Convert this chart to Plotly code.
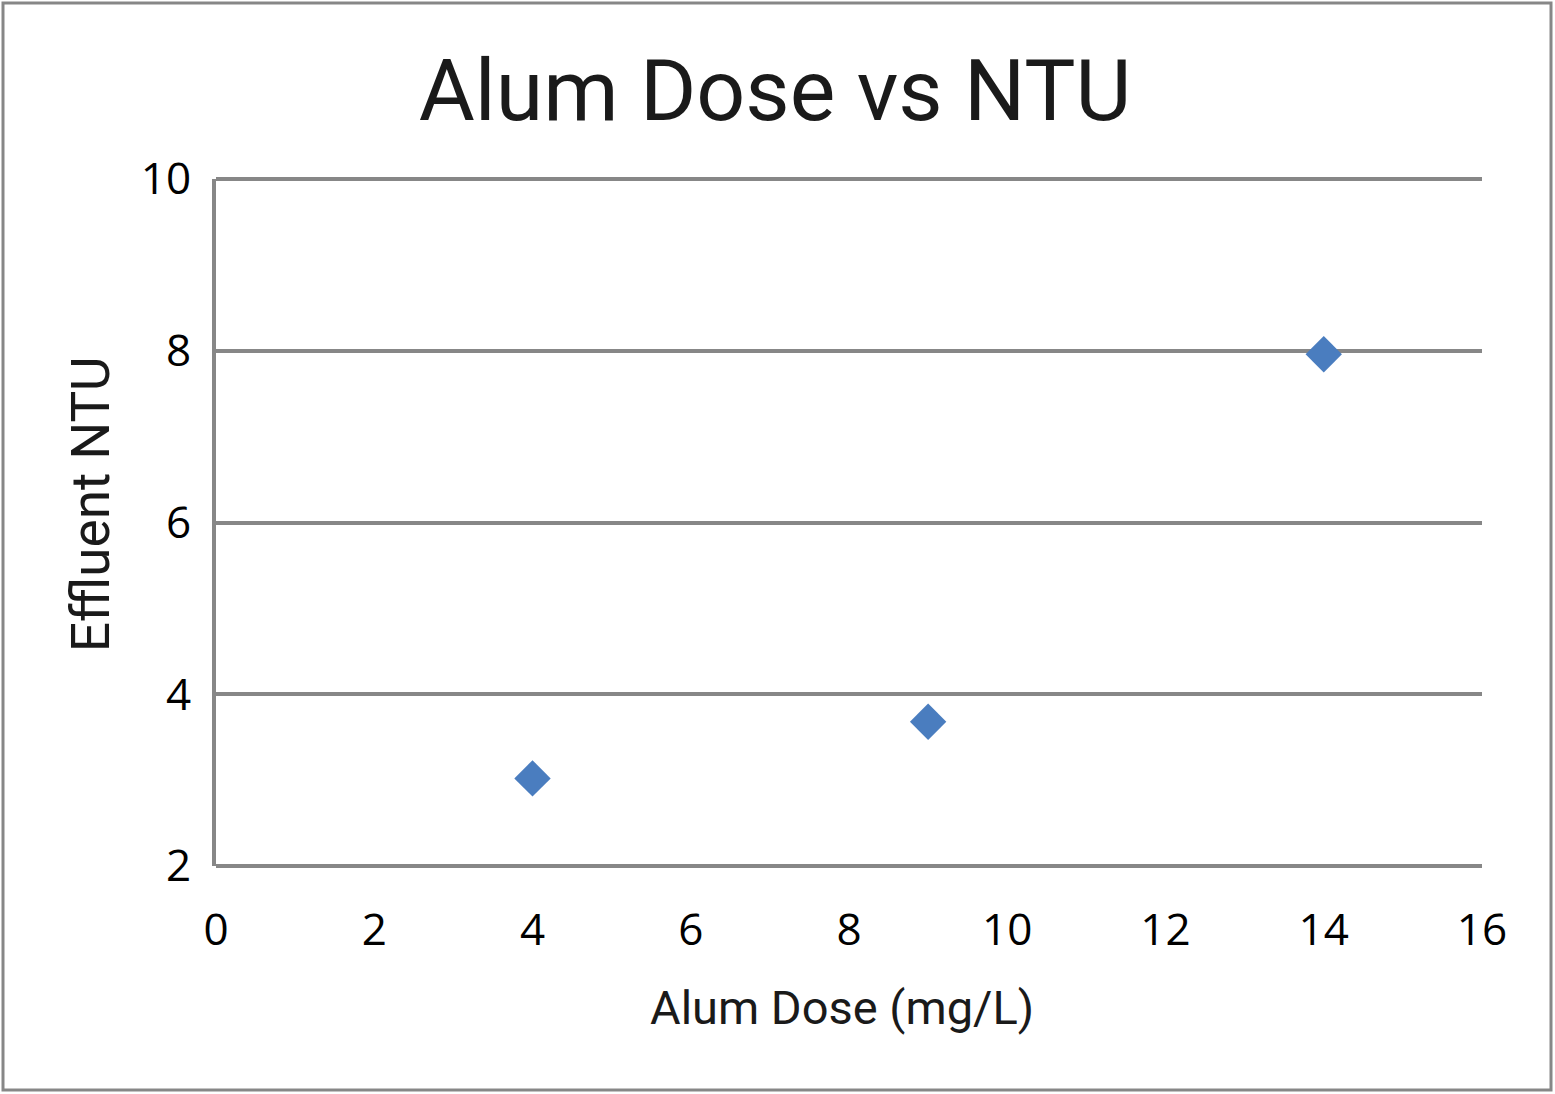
import plotly.graph_objects as go

# Datos
dosis_alum = [4, 9, 14]            # mg/L
ntu_efluente = [3.02, 3.68, 7.96]  # NTU

ticks_x = [0, 2, 4, 6, 8, 10, 12, 14, 16]
ticks_y = [2, 4, 6, 8, 10]

fuente_titulos = "Roboto, Liberation Sans, sans-serif"
fuente_ticks = "Open Sans, Noto Sans, sans-serif"
gris = "#878787"

# Tamaño del area de dibujo en pixeles (para colocar textos)
ancho_area = 1555 - 216 - 73
alto_area = 1094 - 179 - 228

fig = go.Figure()

fig.add_trace(go.Scatter(
    x=dosis_alum,
    y=ntu_efluente,
    mode="markers",
    marker=dict(symbol="diamond", size=28, color="#4a7dbf", line=dict(width=0)),
    showlegend=False,
))

fig.update_layout(
    width=1555,
    height=1094,
    paper_bgcolor="white",
    plot_bgcolor="white",
    margin=dict(l=216, r=73, t=179, b=228),
    title=dict(
        text="Alum Dose vs NTU",
        font=dict(family=fuente_titulos, size=86, color="#1a1a1a"),
        x=775 / 1555,
        xanchor="center",
        xref="container",
        y=1 - 90 / 1094,
        yref="container",
        yanchor="middle",
    ),
)

fig.update_xaxes(
    range=[0, 16],
    tickvals=ticks_x,
    showgrid=False,
    zeroline=False,
    showline=False,
    ticks="",
    ticklabelstandoff=34,
    automargin=False,
    tickfont=dict(family=fuente_ticks, size=44, color="black"),
)

fig.update_yaxes(
    range=[2, 10],
    tickvals=ticks_y,
    showgrid=True,
    gridcolor=gris,
    gridwidth=4,
    zeroline=False,
    showline=True,
    linecolor=gris,
    linewidth=4,
    ticks="",
    ticklabelstandoff=12,
    automargin=False,
    tickfont=dict(family=fuente_ticks, size=44, color="black"),
)

# Titulos de los ejes como anotaciones
fig.add_annotation(
    text="Alum Dose (mg/L)", showarrow=False,
    xref="paper", yref="paper",
    x=(842 - 216) / ancho_area, y=(866 - 1007) / alto_area,
    xanchor="center", yanchor="middle",
    font=dict(family=fuente_titulos, size=47, color="#1a1a1a"),
)
fig.add_annotation(
    text="Effluent NTU", showarrow=False, textangle=-90,
    xref="paper", yref="paper",
    x=(91 - 216) / ancho_area, y=(866 - 504) / alto_area,
    xanchor="center", yanchor="middle",
    font=dict(family=fuente_titulos, size=53, color="#1a1a1a"),
)

# Linea del eje X (y = 2) y linea superior (y = 10)
for yy in (0, 1):
    fig.add_shape(type="line", xref="paper", yref="paper", x0=0, x1=1, y0=yy, y1=yy,
                  line=dict(color=gris, width=4))

# Borde exterior del grafico
fig.add_shape(type="rect", xref="paper", yref="paper",
              x0=(3 - 216) / ancho_area, x1=(1551 - 216) / ancho_area,
              y0=(866 - 1090) / alto_area, y1=(866 - 3) / alto_area,
              line=dict(color=gris, width=3), layer="below")

# Quitamos el margen de la pagina y la barra de herramientas
fig.write_html(
    "out.html",
    config={"displayModeBar": False},
    post_script="document.body.style.margin = '0';",
)
